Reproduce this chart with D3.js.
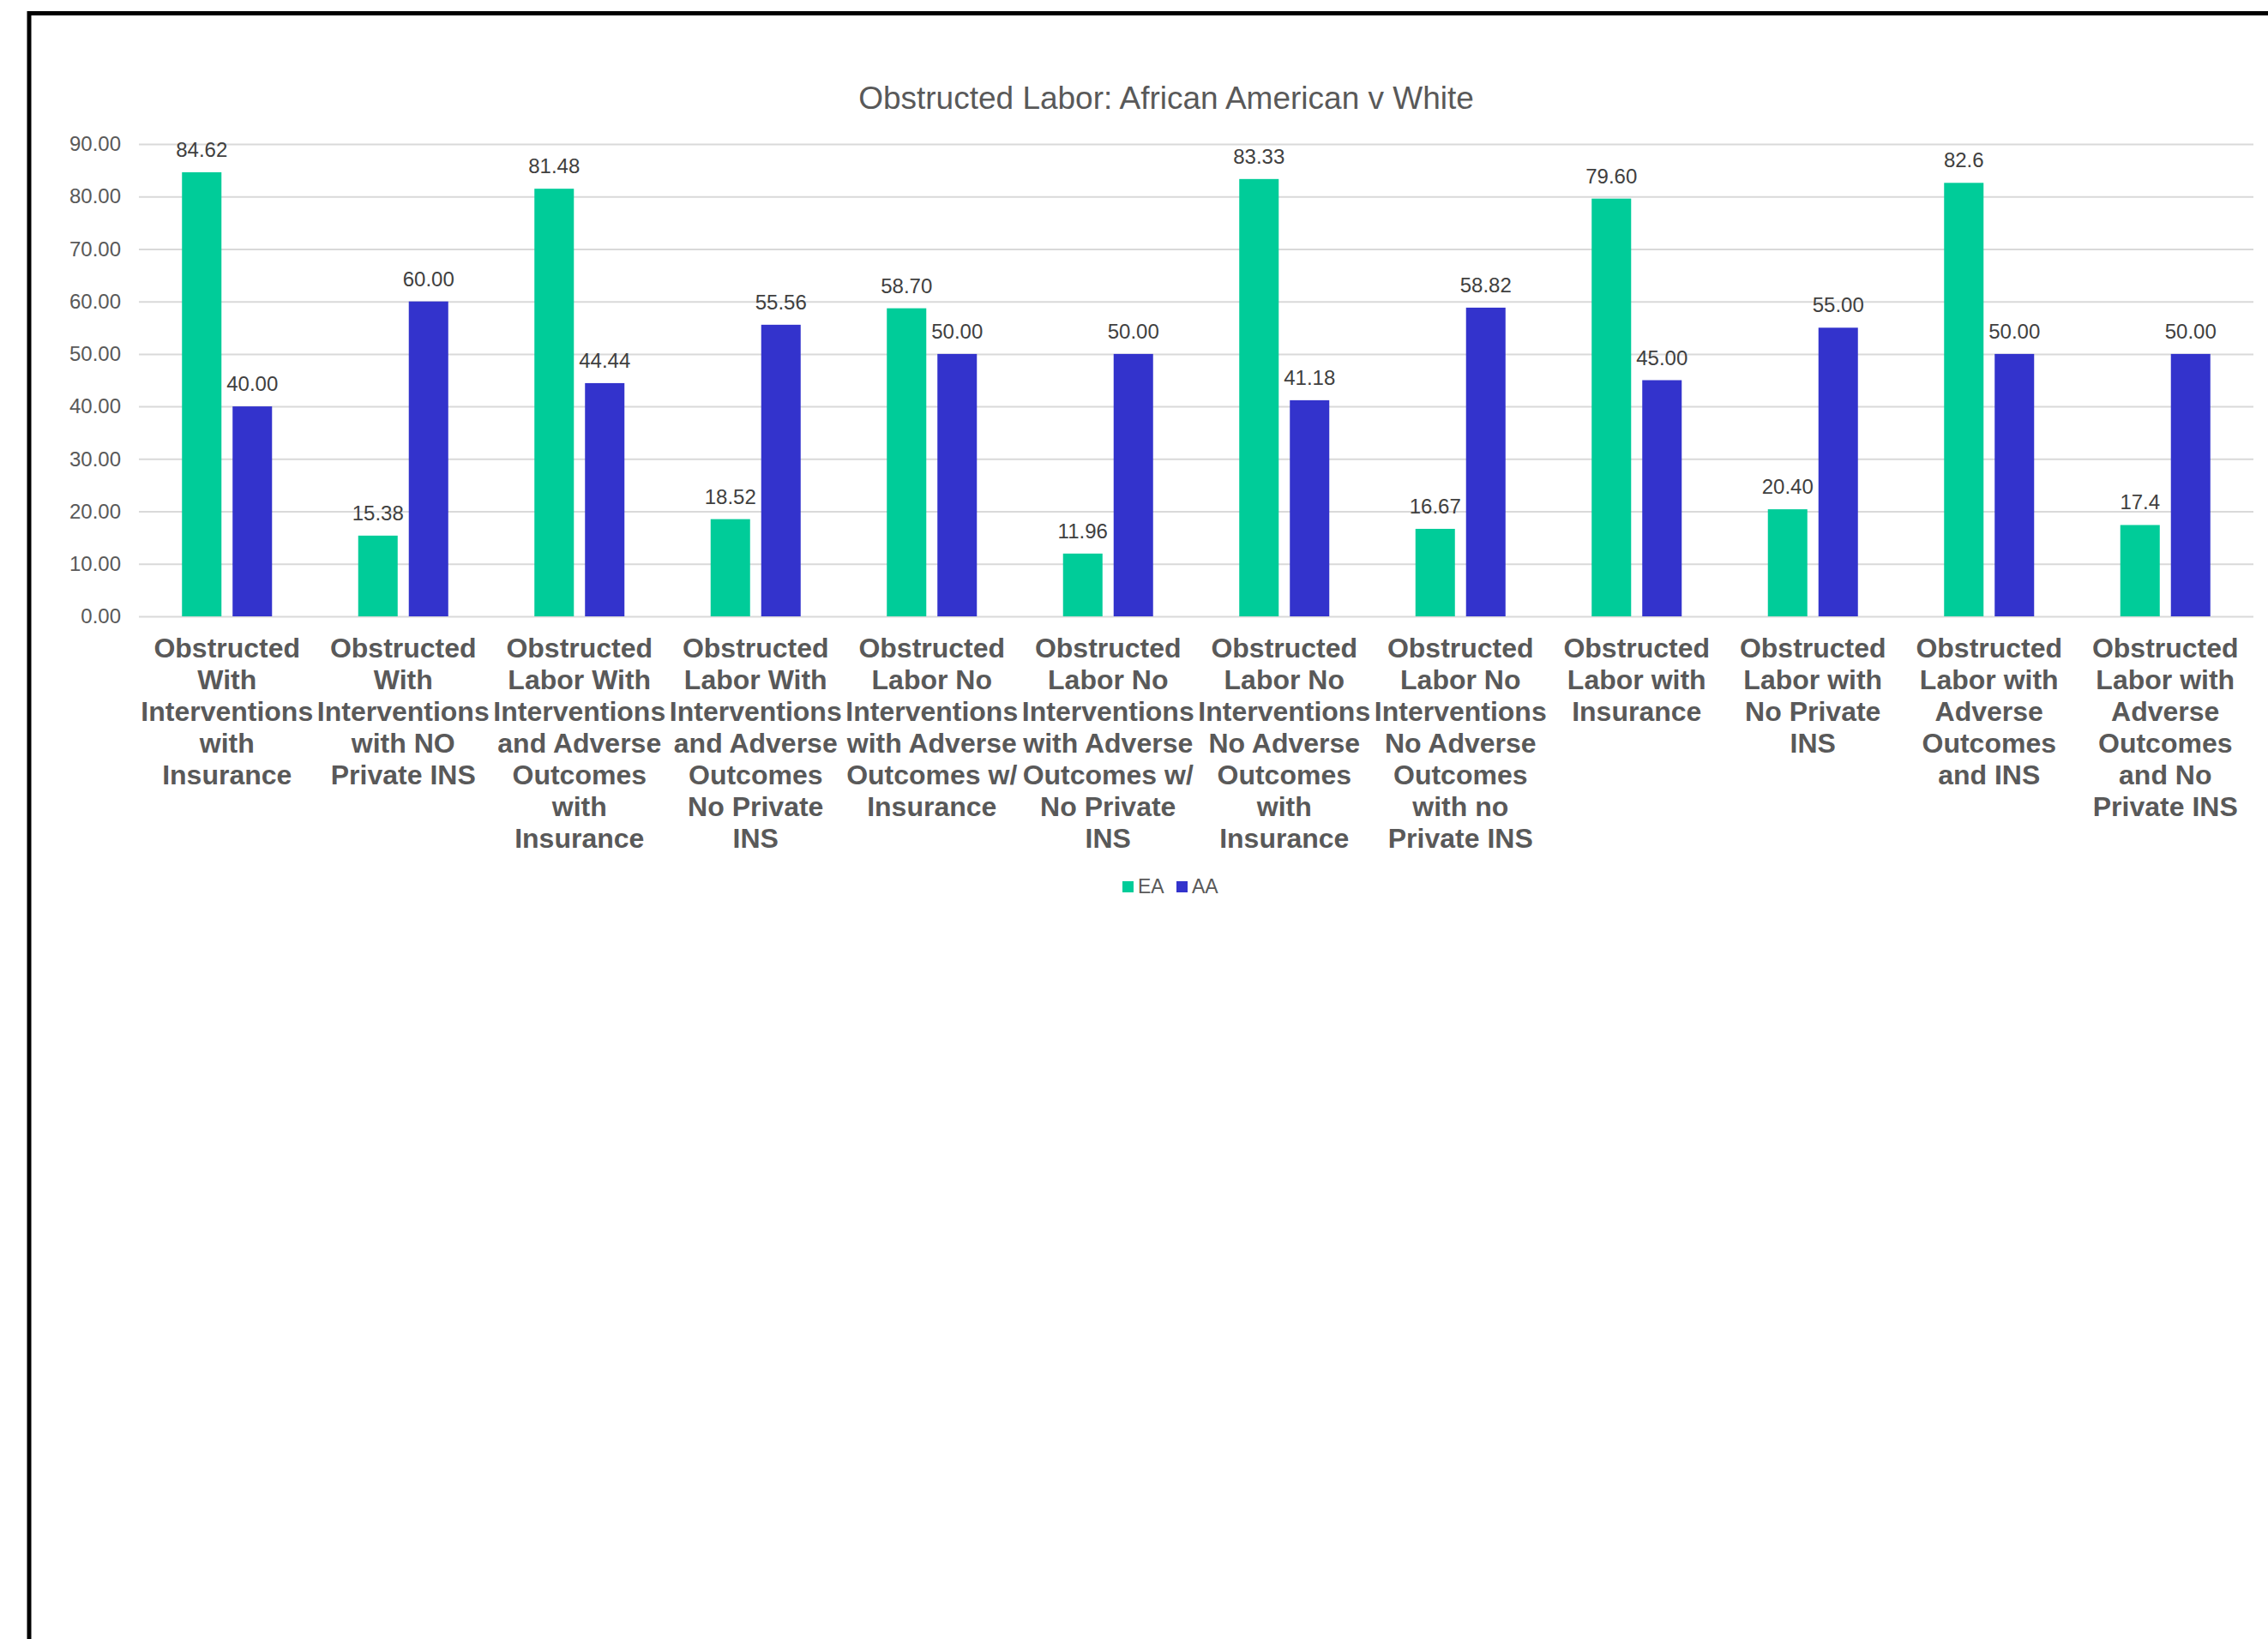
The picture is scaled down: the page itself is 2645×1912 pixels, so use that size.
<!DOCTYPE html>
<html>
<head>
<meta charset="utf-8">
<title>Obstructed Labor</title>
<script src="https://d3js.org/d3.v7.min.js"></script>
<style>
  body { margin: 0; background: #fff; }
  text { font-family: "Liberation Sans", Arial, sans-serif; }
  .title { font-size: 37px; fill: #595959; }
  .ytick text { font-size: 24px; fill: #595959; }
  .vlabel { font-size: 24px; fill: #404040; }
  .cat { font-size: 32px; font-weight: bold; fill: #595959; }
  .leg { font-size: 23px; fill: #595959; }
</style>
</head>
<body>
<script>
// chart data
var categories = [
  "Obstructed With Interventions with Insurance",
  "Obstructed With Interventions with NO Private INS",
  "Obstructed Labor With Interventions and Adverse Outcomes with Insurance",
  "Obstructed Labor With Interventions and Adverse Outcomes No Private INS",
  "Obstructed Labor No Interventions with Adverse Outcomes w/ Insurance",
  "Obstructed Labor No Interventions with Adverse Outcomes w/ No Private INS",
  "Obstructed Labor No Interventions No Adverse Outcomes with Insurance",
  "Obstructed Labor No Interventions No Adverse Outcomes with no Private INS",
  "Obstructed Labor with Insurance",
  "Obstructed Labor with No Private INS",
  "Obstructed Labor with Adverse Outcomes and INS",
  "Obstructed Labor with Adverse Outcomes and No Private INS"
];
var eaValues = ["84.62","15.38","81.48","18.52","58.70","11.96","83.33","16.67","79.60","20.40","82.6","17.4"];
var aaValues = ["40.00","60.00","44.44","55.56","50.00","50.00","41.18","58.82","45.00","55.00","50.00","50.00"];
var seriesNames = ["EA", "AA"];
var yTicks = [0, 10, 20, 30, 40, 50, 60, 70, 80, 90];

var width = 2645, height = 1912;
var plotLeft = 162, plotRight = 2628, plotTop = 168, plotBottom = 719;
var colors = d3.scaleOrdinal().domain(seriesNames).range(["#00CC99", "#3333CC"]);

var svg = d3.select("body").append("svg")
    .attr("width", width).attr("height", height);

// frame
svg.append("rect").attr("x", 34).attr("y", 15.5)
   .attr("width", 3000).attr("height", 3000)
   .attr("fill", "none").attr("stroke", "#000").attr("stroke-width", 5);

svg.append("text").attr("class", "title")
   .attr("x", 1360).attr("y", 127).attr("text-anchor", "middle")
   .text("Obstructed Labor: African American v White");

var y = d3.scaleLinear().domain([0, 90]).range([plotBottom, plotTop]);
var x0 = d3.scaleBand().domain(categories).range([plotLeft, plotRight])
    .paddingInner(0.489).paddingOuter(0.2445);
var x1 = d3.scaleBand().domain(seriesNames).range([0, x0.bandwidth()])
    .paddingInner(0.22);

var yAxis = svg.append("g").attr("class", "ytick")
   .attr("transform", "translate(" + plotLeft + ",0)")
   .call(d3.axisLeft(y).tickValues(yTicks).tickFormat(d3.format(".2f"))
        .tickSize(-(plotRight - plotLeft)).tickPadding(21));
yAxis.select(".domain").remove();
yAxis.selectAll("line").attr("stroke", "#d9d9d9").attr("stroke-width", 2);

var rows = categories.map(function(c, i) {
  return { cat: c, vals: [{s: "EA", v: eaValues[i]}, {s: "AA", v: aaValues[i]}] };
});

var groups = svg.selectAll(".grp").data(rows).enter().append("g")
   .attr("class", "grp")
   .attr("transform", function(d) { return "translate(" + x0(d.cat) + ",0)"; });

groups.selectAll("rect").data(function(d) { return d.vals; }).enter().append("rect")
   .attr("x", function(d) { return x1(d.s); })
   .attr("width", x1.bandwidth())
   .attr("y", function(d) { return y(+d.v); })
   .attr("height", function(d) { return y(0) - y(+d.v); })
   .attr("fill", function(d) { return colors(d.s); });

groups.selectAll(".vlabel").data(function(d) { return d.vals; }).enter().append("text")
   .attr("class", "vlabel")
   .attr("text-anchor", "middle")
   .attr("x", function(d) { return x1(d.s) + x1.bandwidth() / 2; })
   .attr("y", function(d) { return y(+d.v) - 18; })
   .text(function(d) { return d.v; });

// wrapped category labels
var maxW = x0.step() - 0.5;
svg.selectAll(".cat").data(categories).enter().append("text")
   .attr("class", "cat")
   .attr("text-anchor", "middle")
   .each(function(d) {
      var t = d3.select(this), cx = x0(d) + x0.bandwidth() / 2;
      var words = d.split(" "), line = [], n = 0;
      var ts = t.append("tspan").attr("x", cx).attr("y", 767);
      words.forEach(function(w) {
        line.push(w);
        ts.text(line.join(" "));
        if (ts.node().getComputedTextLength() > maxW && line.length > 1) {
          line.pop();
          ts.text(line.join(" "));
          line = [w];
          n++;
          ts = t.append("tspan").attr("x", cx).attr("y", 767 + n * 37).text(w);
        }
      });
   });

// legend
var legX = [1309, 1372];
var leg = svg.selectAll(".legitem").data(seriesNames).enter().append("g")
   .attr("transform", function(d, i) { return "translate(" + legX[i] + ",1028)"; });
leg.append("rect").attr("width", 13).attr("height", 13)
   .attr("fill", function(d) { return colors(d); });
leg.append("text").attr("class", "leg").attr("x", 18).attr("y", 14).text(function(d) { return d; });
</script>
</body>
</html>
